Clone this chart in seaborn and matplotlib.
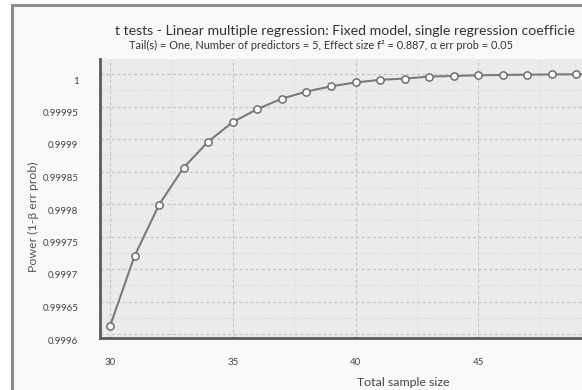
import matplotlib
matplotlib.use("Agg")
import matplotlib.pyplot as plt
import matplotlib.transforms as mtransforms
from matplotlib.patches import Rectangle
from matplotlib.lines import Line2D
from matplotlib.ticker import MultipleLocator, FixedLocator, FixedFormatter
import seaborn as sns
import pandas as pd

# ---- data ----
sample_size = [30, 31, 32, 33, 34, 35, 36, 37, 38, 39, 40,
               41, 42, 43, 44, 45, 46, 47, 48, 49, 50]
power = [0.999612, 0.999720, 0.999799, 0.999856, 0.999896, 0.999926,
         0.999946, 0.999962, 0.999973, 0.999981, 0.999987,
         0.999991, 0.999993, 0.999996, 0.999997, 0.999998,
         0.9999985, 0.999999, 0.9999993, 0.9999995, 0.9999997]
y_ticks = [0.9996, 0.99965, 0.9997, 0.99975, 0.9998, 0.99985, 0.9999, 0.99995, 1.0]
y_tick_labels = ["0.9996", "0.99965", "0.9997", "0.99975", "0.9998",
                 "0.99985", "0.9999", "0.99995", "1"]
x_ticks = [30, 35, 40, 45]
x_tick_labels = ["30", "35", "40", "45"]
# the reference screenshot cuts the title off at its right edge
title = "t tests - Linear multiple regression: Fixed model, single regression coefficie"
subtitle = "Tail(s) = One, Number of predictors = 5, Effect size f² = 0.887, α err prob = 0.05"
x_label = "Total sample size"
y_label = "Power (1-β err prob)"

df = pd.DataFrame({"n": sample_size, "power": power})

sns.set_theme(style="white")
plt.rcParams['font.family'] = ['Lato', 'DejaVu Sans']

W, H = 582, 390
fig = plt.figure(figsize=(W / 100, H / 100), dpi=100)
fig.patch.set_facecolor("white")

def fx(px):
    return px / W

def fy(py):
    return 1 - py / H

# outer panel frame
fig.patches.append(Rectangle((fx(12), 0), 1 - fx(12), fy(5), transform=fig.transFigure,
                             facecolor="#f9f9f9", edgecolor="none", zorder=-5))
fig.lines.append(Line2D([fx(12), fx(12)], [0, fy(5)], transform=fig.transFigure,
                        color="#8c8c8c", lw=2.2, zorder=-4))
fig.lines.append(Line2D([fx(12), 1], [fy(5), fy(5)], transform=fig.transFigure,
                        color="#8c8c8c", lw=2.2, zorder=-4))

# axes: left 100px, top 59px, bottom 338px, right beyond image (clipped)
ax_left, ax_right, ax_top, ax_bottom = 100, 706, 59, 338
ax = fig.add_axes([fx(ax_left), fy(ax_bottom), (ax_right - ax_left) / W, (ax_bottom - ax_top) / H])
ax.set_zorder(2)
ax.set_facecolor("#ebebed")

sns.lineplot(data=df, x="n", y="power", ax=ax, color="#7a7a7a", linewidth=1.5,
             marker="o", markersize=5.2, markerfacecolor="white",
             markeredgecolor="#6e6e6e", markeredgewidth=1.1, zorder=5)

px_per_x = 24.55
ax.set_xlim(30 - (110 - ax_left) / px_per_x, 30 + (ax_right - 110) / px_per_x)
px_per_y = 650000.0
ax.set_ylim(0.9996 - (338 - 334) / px_per_y, 0.9996 + (334 - ax_top) / px_per_y)

ax.xaxis.set_major_locator(FixedLocator(x_ticks))
ax.xaxis.set_major_formatter(FixedFormatter(x_tick_labels))
ax.xaxis.set_minor_locator(MultipleLocator(2.5))
ax.yaxis.set_major_locator(FixedLocator(y_ticks))
ax.yaxis.set_major_formatter(FixedFormatter(y_tick_labels))
ax.yaxis.set_minor_locator(MultipleLocator(0.000025))

ax.grid(which="major", color="#c4c4c6", linestyle=(0, (3, 2)), linewidth=0.8)
ax.grid(which="minor", color="#d6d6d8", linestyle=(0, (2, 2)), linewidth=0.6)
ax.set_axisbelow(True)

for s in ["top", "right"]:
    ax.spines[s].set_visible(False)
for s in ["left", "bottom"]:
    ax.spines[s].set_color("#5a5a5a")
    ax.spines[s].set_linewidth(2.0)

ax.tick_params(axis="y", which="major", direction="out", length=6, width=1.4,
               color="#4a4a4a", labelsize=7.0, labelcolor="#444444", pad=9.5)
ax.tick_params(axis="y", which="minor", direction="out", length=4, width=1.2, color="#4a4a4a")
ax.tick_params(axis="x", which="major", direction="out", length=6.5, width=1.4,
               color="#4a4a4a", labelsize=7.0, labelcolor="#444444", pad=8)
ax.tick_params(axis="x", which="minor", direction="out", length=4, width=1.2, color="#4a4a4a")

# G*Power style: y tick labels sit slightly below their ticks
offset = mtransforms.ScaledTranslation(0, -6 / 100, fig.dpi_scale_trans)
for lab in ax.get_yticklabels():
    lab.set_transform(lab.get_transform() + offset)

ax.set_xlabel("")
ax.set_ylabel("")

fig.text(fx(115), fy(31), title, ha="left", va="center", fontsize=10.2, color="#333333")
fig.text(fx(321), fy(45.5), subtitle, ha="center", va="center", fontsize=7.9, color="#333333")
fig.text(fx(403), fy(382), x_label, ha="center", va="center", fontsize=8.9, color="#444444")
fig.text(fx(33), fy(217), y_label, ha="center", va="center", rotation=90,
         fontsize=8.9, color="#555555")

fig.savefig("out.png", dpi=100)
